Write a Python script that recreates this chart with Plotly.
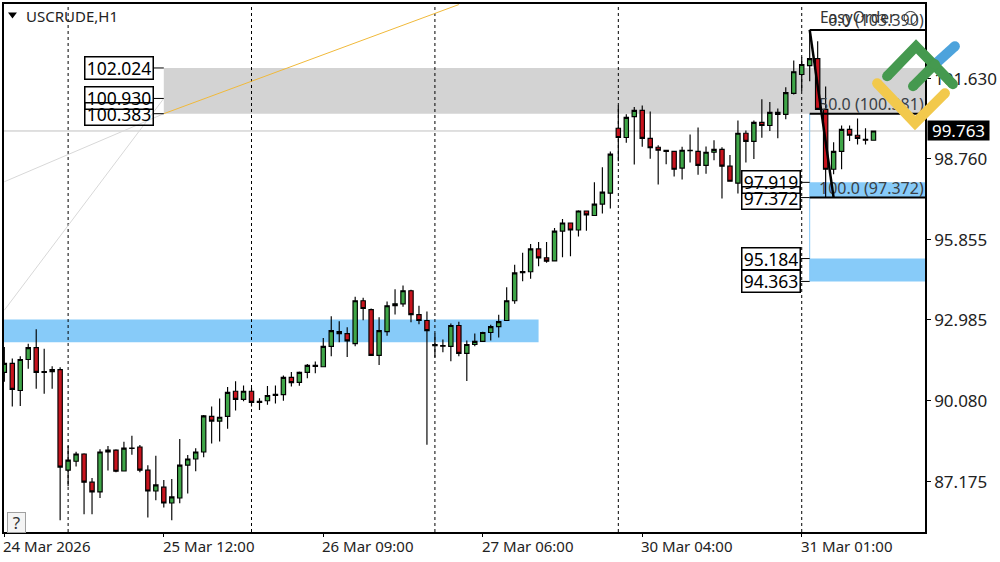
import plotly.graph_objects as go

# USCRUDE H1 candles, one entry per bar
opens = [91.10, 91.42, 90.45, 91.56, 91.99, 91.13, 91.12, 91.20, 87.59, 87.91,
         88.17, 87.16, 86.81, 88.24, 88.31, 87.56, 88.38, 88.42, 87.59, 86.84,
         86.98, 86.41, 86.59, 87.77, 87.99, 88.24, 89.52, 89.35, 89.52, 90.42,
         90.13, 90.42, 90.06, 90.08, 90.27, 90.30, 90.92, 90.74, 91.10, 91.31,
         91.30, 92.03, 92.56, 92.49, 92.13, 93.67, 93.35, 91.71, 92.56, 93.49,
         93.56, 94.03, 93.17, 92.96, 92.10, 92.06, 92.03, 92.78, 91.78, 92.10,
         92.21, 92.53, 92.74, 92.96, 93.67, 94.68, 94.71, 95.53, 95.21, 95.10,
         96.17, 96.46, 96.21, 96.89, 96.73, 97.14, 97.53, 99.86, 99.53, 100.28,
         100.50, 99.50, 99.18, 99.07, 99.03, 98.43, 99.06, 99.03, 98.53, 99.00,
         99.10, 98.50, 97.89, 99.68, 99.39, 100.07, 99.96, 100.43, 100.36, 101.11,
         101.79, 102.11, 102.36, 100.54, 98.39, 99.03, 99.82, 99.61, 99.46, 99.43]
highs = [92.01, 91.60, 91.68, 92.13, 92.65, 91.95, 91.32, 91.28, 88.47, 88.25,
         88.20, 87.31, 88.34, 88.46, 88.34, 88.61, 88.82, 88.49, 87.77, 88.11,
         87.24, 87.27, 88.71, 88.13, 88.38, 89.57, 89.87, 90.16, 90.57, 90.78,
         90.63, 90.55, 90.17, 90.61, 90.63, 90.99, 91.11, 91.13, 91.40, 91.49,
         92.33, 93.11, 92.93, 92.72, 93.81, 93.78, 93.39, 93.08, 93.64, 94.08,
         94.22, 94.06, 93.49, 93.28, 92.49, 92.28, 92.85, 92.92, 92.24, 92.49,
         92.56, 92.81, 93.17, 94.15, 94.96, 95.39, 95.71, 95.78, 95.78, 96.28,
         96.60, 96.46, 96.92, 96.89, 97.92, 98.46, 99.03, 100.68, 100.36, 100.62,
         100.68, 100.46, 99.25, 99.07, 99.03, 99.20, 99.64, 99.89, 99.21, 99.43,
         99.18, 98.90, 100.14, 99.78, 100.14, 100.90, 100.80, 100.57, 101.33, 102.29,
         102.41, 103.39, 102.98, 101.36, 99.36, 99.96, 99.96, 100.21, 99.86, 99.76]
lows = [90.76, 89.87, 89.89, 91.23, 90.51, 90.33, 90.51, 85.79, 87.01, 87.72,
        86.01, 86.01, 86.59, 87.58, 87.51, 87.56, 88.14, 87.51, 85.89, 86.51,
        86.25, 85.79, 86.40, 86.75, 87.55, 88.05, 88.55, 88.62, 89.08, 89.73,
        90.06, 89.87, 89.75, 89.94, 89.98, 90.08, 90.59, 90.62, 90.89, 91.07,
        91.30, 91.68, 92.18, 91.65, 92.04, 92.97, 91.71, 91.36, 92.41, 93.18,
        93.45, 92.90, 92.83, 88.50, 91.63, 91.82, 91.50, 91.68, 90.79, 92.04,
        92.21, 92.24, 92.35, 92.96, 93.56, 94.37, 94.46, 94.91, 95.03, 95.10,
        95.23, 95.27, 95.98, 96.18, 96.71, 96.80, 96.98, 98.68, 99.34, 98.56,
        99.20, 98.77, 97.84, 98.57, 98.13, 98.02, 98.63, 98.19, 98.23, 98.71,
        97.34, 97.96, 97.52, 98.63, 98.76, 99.52, 99.76, 99.50, 100.18, 101.07,
        101.20, 101.55, 100.54, 97.39, 98.21, 98.39, 99.40, 99.28, 99.28, 99.43]
closes = [91.42, 90.49, 91.56, 91.99, 91.10, 91.10, 91.20, 87.70, 87.95, 88.17,
          87.16, 86.81, 88.24, 88.31, 87.55, 88.38, 88.37, 87.59, 86.84, 87.06,
          86.41, 86.63, 87.77, 87.99, 88.24, 89.54, 89.35, 89.49, 90.38, 90.13,
          90.42, 90.02, 90.02, 90.27, 90.31, 90.92, 90.73, 91.10, 91.35, 91.35,
          92.03, 92.60, 92.49, 92.23, 93.67, 93.39, 91.71, 92.60, 93.49, 93.56,
          94.03, 93.17, 92.96, 92.60, 92.06, 92.04, 92.78, 91.78, 92.10, 92.21,
          92.53, 92.74, 92.92, 93.67, 94.67, 94.72, 95.53, 95.21, 95.09, 96.17,
          96.46, 96.21, 96.89, 96.75, 97.14, 97.57, 98.93, 99.53, 100.25, 100.50,
          99.50, 99.16, 99.07, 99.03, 98.39, 99.07, 99.07, 98.53, 99.00, 99.10,
          98.50, 97.96, 99.68, 99.39, 100.07, 99.96, 100.43, 100.36, 101.14, 101.89,
          102.15, 102.36, 100.54, 98.39, 99.03, 99.82, 99.61, 99.50, 99.43, 99.763]

price_ticks = [101.630, 98.760, 95.855, 92.985, 90.080, 87.175]
time_tick_bars = [0, 20, 40, 60, 80, 100]
time_tick_labels = ["24 Mar 2026", "25 Mar 12:00", "26 Mar 09:00", "27 Mar 06:00", "30 Mar 04:00", "31 Mar 01:00"]
separator_bars = [8, 31, 54, 77, 100]

last_price = 99.763
left_levels = [102.024, 100.930, 100.383]
right_levels = [97.919, 97.372, 95.184, 94.363]
blue_zone = [93.00, 92.18]
fib_levels = [103.390, 100.381, 97.372]
fib_labels = ["0.0 (103.390)", "50.0 (100.381)", "100.0 (97.372)"]

X_MIN, X_MAX = -0.04, 115.46
Y_MIN, Y_MAX = 85.37, 104.32
FONT = "Noto Sans"
BLUE = "#87CBF9"
GREEN = "#3FA648"
RED = "#C8141E"

bars = list(range(len(opens)))


# screen pixel -> paper coordinates, only for the decorations outside the data
def paper_x(px):
    return (px - 3) / 924


def paper_y(py):
    return 1 - (py - 2.5) / 530


fig = go.Figure()

fig.add_trace(go.Candlestick(
    x=bars, open=opens, high=highs, low=lows, close=closes,
    increasing=dict(fillcolor=GREEN, line=dict(color="black", width=1.15)),
    decreasing=dict(fillcolor=RED, line=dict(color="black", width=1.15)),
    whiskerwidth=0, hoverinfo="skip",
))

# fib labels as text trace so the logo shapes sit on top of them
fig.add_trace(go.Scatter(
    x=[115.3] * 3, y=fib_levels, text=fib_labels, mode="text", textposition="top left",
    textfont=dict(family=FONT, size=16, color="#3a3f45"), hoverinfo="skip",
))


def below(**kw):
    fig.add_shape(layer="below", **kw)


def above(**kw):
    fig.add_shape(layer="above", **kw)


# zones
below(type="rect", x0=20, x1=X_MAX + 5, y0=left_levels[2], y1=left_levels[0], fillcolor="#D3D3D3", line_width=0)
below(type="rect", x0=X_MIN - 5, x1=67, y0=blue_zone[1], y1=blue_zone[0], fillcolor=BLUE, line_width=0)
below(type="rect", x0=101, x1=X_MAX + 5, y0=right_levels[1], y1=right_levels[0], fillcolor=BLUE, line_width=0)
below(type="rect", x0=101, x1=X_MAX + 5, y0=right_levels[3], y1=right_levels[2], fillcolor=BLUE, line_width=0)

# current price line, session separators
below(type="line", x0=X_MIN, x1=X_MAX, y0=last_price, y1=last_price, line=dict(color="#C0C0C0", width=1))
for b in separator_bars:
    below(type="line", x0=b, x1=b, y0=Y_MIN, y1=Y_MAX, line=dict(color="black", width=1, dash="3px,3px"))

# fan and trend lines from the left zone
below(type="line", x0=0, y0=97.94, x1=20, y1=100.383, line=dict(color="#D8D8D8", width=1))
below(type="line", x0=0, y0=93.33, x1=20, y1=100.930, line=dict(color="#D8D8D8", width=1))
above(type="line", x0=20, y0=100.383, x1=57, y1=104.30, line=dict(color="#F0B93A", width=1))

# fib drawing
below(type="line", x0=101, x1=101, y0=94.363, y1=100.381, line=dict(color=BLUE, width=1))
for lv in fib_levels:
    above(type="line", x0=101, x1=X_MAX, y0=lv, y1=lv, line=dict(color="black", width=2))
above(type="line", x0=101, y0=103.39, x1=104, y1=97.372, line=dict(color="black", width=2.5))

# boxed price labels with their little connectors
for lv in left_levels:
    above(type="line", x0=18.75, x1=20, y0=lv, y1=lv, line=dict(color="black", width=1))
    fig.add_annotation(x=18.75, y=lv, text=f"{lv:.3f}", showarrow=False, xanchor="right",
                       width=65, height=19, borderpad=1, borderwidth=1.5, bordercolor="black",
                       font=dict(family=FONT, size=17.5, color="black"))
for lv in right_levels:
    above(type="line", x0=99.9, x1=101, y0=lv, y1=lv, line=dict(color="black", width=1))
    fig.add_annotation(x=99.9, y=lv, text=f"{lv:.3f}", showarrow=False, xanchor="right",
                       width=55, height=19, borderpad=1, borderwidth=1.5, bordercolor="black",
                       font=dict(family=FONT, size=17.5, color="black"))

# last price tag
fig.add_annotation(x=1, xref="paper", xshift=2, y=last_price, text=f"{last_price:.3f}", showarrow=False,
                   xanchor="left", width=59, height=17, borderpad=1, bgcolor="black",
                   font=dict(family=FONT, size=17, color="white"))

# time labels start at their tick rather than centred on it
for b, lab in zip(time_tick_bars, time_tick_labels):
    fig.add_annotation(x=b, y=0, yref="paper", text=lab, showarrow=False, xanchor="left", yanchor="top",
                       xshift=-3, yshift=-2, font=dict(family=FONT, size=15, color="#222222"))

# chart header, help button, one click panel
fig.add_annotation(x=paper_x(23), y=paper_y(15), xref="paper", yref="paper", text="USCRUDE,H1", showarrow=False,
                   xanchor="left", yanchor="middle", font=dict(family=FONT, size=15, color="#222222"))
fig.add_shape(type="path", xref="paper", yref="paper",
              path=f"M {paper_x(7)} {paper_y(11)} L {paper_x(16)} {paper_y(11)} L {paper_x(11.5)} {paper_y(17)} Z",
              fillcolor="black", line_width=0)
fig.add_annotation(x=paper_x(820), y=paper_y(16), xref="paper", yref="paper", text="EasyOrder", showarrow=False,
                   xanchor="left", yanchor="middle", font=dict(family=FONT, size=15.5, color="#333333"))
fig.add_shape(type="circle", xref="paper", yref="paper", x0=paper_x(906), x1=paper_x(919), y0=paper_y(23), y1=paper_y(10),
              line=dict(color="#333333", width=1))
fig.add_annotation(x=paper_x(16), y=paper_y(523), xref="paper", yref="paper", text="?", showarrow=False,
                   xanchor="center", yanchor="middle", width=15, height=17, borderwidth=1,
                   bordercolor="#A0A0A0", bgcolor="#F4F4F4",
                   font=dict(family=FONT, size=17, color="#333333"))


# logo strokes, round ended
def stroke(points, color, width=10):
    path = " ".join(("M" if i == 0 else "L") + f" {paper_x(x)} {paper_y(y)}" for i, (x, y) in enumerate(points))
    above(type="path", xref="paper", yref="paper", path=path, line=dict(color=color, width=width))
    for x, y in (points[0], points[-1]):
        r = width / 2
        above(type="circle", xref="paper", yref="paper", x0=paper_x(x - r), x1=paper_x(x + r),
              y0=paper_y(y + r), y1=paper_y(y - r), fillcolor=color, line_width=0)


stroke([(937, 63), (957, 45)], "#4DA3DC")
stroke([(879, 82), (917, 122), (947, 92)], "#F2C94C")
stroke([(889, 75), (918, 45), (955, 83)], "#45994F")
stroke([(915, 85), (937, 63)], "#45994F")

fig.update_layout(
    width=1000, height=562,
    margin=dict(l=3, r=73, t=2.5, b=29.5),
    paper_bgcolor="white", plot_bgcolor="white",
    showlegend=False, boxgap=0.22,
)
fig.update_xaxes(
    range=[X_MIN, X_MAX], rangeslider_visible=False, showgrid=False, zeroline=False,
    tickmode="array", tickvals=time_tick_bars, showticklabels=False,
    ticks="outside", ticklen=3, tickcolor="black",
    showline=True, linecolor="black", linewidth=1.5, mirror=True,
)
fig.update_yaxes(
    range=[Y_MIN, Y_MAX], side="right", showgrid=False, zeroline=False,
    tickmode="array", tickvals=price_ticks, ticktext=[f"{p:.3f}" for p in price_ticks],
    ticks="outside", ticklen=4, tickcolor="black",
    tickfont=dict(family=FONT, size=17, color="#222222"),
    showline=True, linecolor="black", linewidth=1.5, mirror=True,
)

# the page default leaves an 8px body margin around the fixed-size figure
fig.write_html("out.html", config={"displayModeBar": False},
               post_script="document.body.style.margin = '0';")
